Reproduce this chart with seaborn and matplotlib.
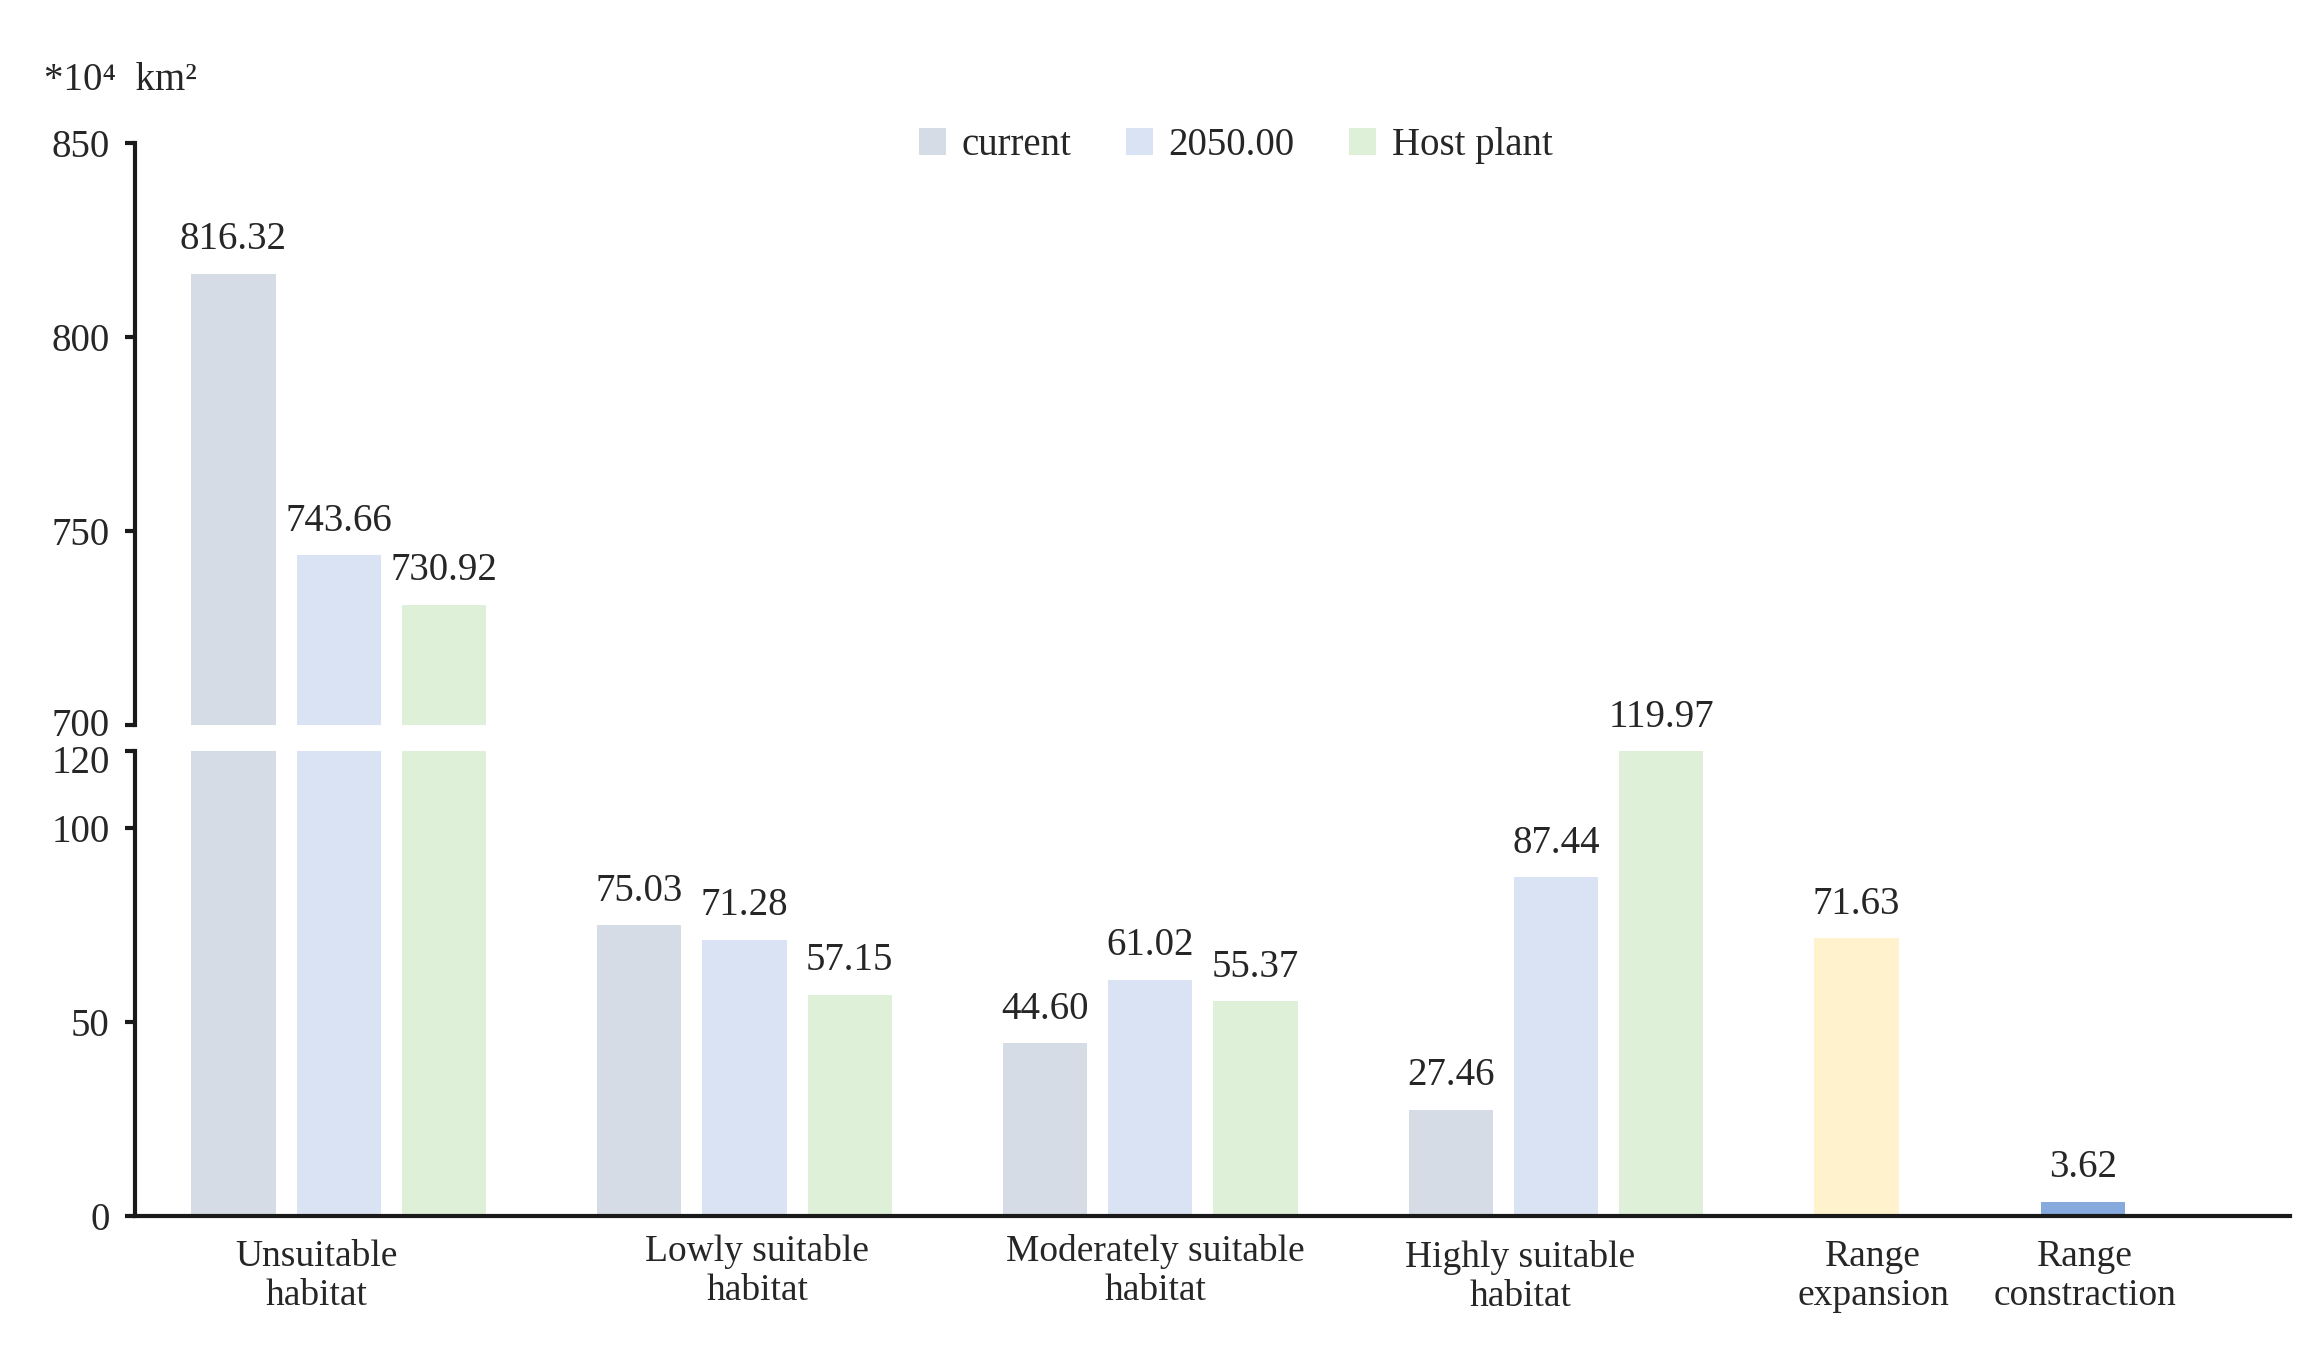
import matplotlib
matplotlib.use("Agg")
import matplotlib.pyplot as plt
import seaborn as sns
import pandas as pd
from matplotlib.patches import Patch
from matplotlib.transforms import ScaledTranslation

# Datos del grafico
categories = ["Unsuitable\nhabitat", "Lowly suitable\nhabitat",
              "Moderately suitable\nhabitat", "Highly suitable\nhabitat"]
series = ["current", "2050.00", "Host plant"]
current = [816.32, 75.03, 44.60, 27.46]
future_2050 = [743.66, 71.28, 61.02, 87.44]
host_plant = [730.92, 57.15, 55.37, 119.97]
change_labels = ["Range\nexpansion", "Range\nconstraction"]
change_names = ["Range expansion", "Range constraction"]
change_values = [71.63, 3.62]

colors = {"current": "#d6dce5", "2050.00": "#dae3f3", "Host plant": "#def1d8",
          "Range expansion": "#fff2cc", "Range constraction": "#86a9de"}

# Posiciones de las barras
group_gap = 3.853
rows = []
for i in range(len(categories)):
    for j, (name, vals) in enumerate(zip(series, [current, future_2050, host_plant])):
        rows.append({"pos": i * group_gap + j, "value": vals[i], "series": name})
change_pos = [4 * group_gap, 4 * group_gap + 2.15]
for p, name, v in zip(change_pos, change_names, change_values):
    rows.append({"pos": p, "value": v, "series": name})
df = pd.DataFrame(rows)

label_pos = [i * group_gap + 1 for i in range(len(categories))] + change_pos
label_shift = [-0.21, 0.12, 0.05, -0.34, 0.16, 0.02]
label_pos = [p + s for p, s in zip(label_pos, label_shift)]

sns.set_style("white")
plt.rcParams["font.family"] = ["Liberation Serif", "DejaVu Serif"]
FS = 28

fig = plt.figure(figsize=(22.97, 13.48), dpi=100)
ax_top = fig.add_axes([0.0588, 0.4625, 0.9382, 0.4314])
ax_bot = fig.add_axes([0.0588, 0.0979, 0.9382, 0.3450])

for ax in (ax_top, ax_bot):
    sns.barplot(data=df, x="pos", y="value", hue="series", palette=colors,
                native_scale=True, dodge=False, width=0.8, errorbar=None,
                saturation=1, linewidth=0, legend=False, ax=ax)
    ax.set_xlim(-0.934, 19.53)
    ax.set_xlabel("")
    ax.set_ylabel("")
    ax.spines["top"].set_visible(False)
    ax.spines["right"].set_visible(False)
    ax.spines["left"].set_linewidth(3)
    ax.spines["bottom"].set_linewidth(3)
    ax.spines["left"].set_color("#1a1a1a")
    ax.spines["bottom"].set_color("#1a1a1a")
    ax.tick_params(axis="y", labelsize=FS, length=7.4, width=3, color="#1a1a1a",
                   pad=11, direction="out", left=True)

ax_top.set_ylim(700, 850)
ax_top.set_yticks([700, 750, 800, 850])
ax_top.spines["bottom"].set_visible(False)
ax_top.set_xticks([])

ax_bot.set_ylim(0, 120)
ax_bot.set_yticks([0, 50, 100, 120])
ax_bot.set_xticks(label_pos)
ax_bot.set_xticklabels(categories + change_labels, fontsize=27, linespacing=1.18)
ax_bot.tick_params(axis="x", length=0, pad=17)
for k, lbl in enumerate(ax_bot.get_xticklabels()):
    if k in (1, 2):
        lbl.set_transform(lbl.get_transform() + ScaledTranslation(0, 4 / 72, fig.dpi_scale_trans))

# separar 700 y 120
ylab_top = ax_top.get_yticklabels()[0]
ylab_top.set_transform(ylab_top.get_transform() + ScaledTranslation(0, 2 / 72, fig.dpi_scale_trans))
ylab_bot = ax_bot.get_yticklabels()[-1]
ylab_bot.set_transform(ylab_bot.get_transform() + ScaledTranslation(0, -6 / 72, fig.dpi_scale_trans))

# Etiquetas de valores
for _, r in df.iterrows():
    ax = ax_top if r["value"] > 120 else ax_bot
    ax.annotate(f"{r['value']:.2f}", (r["pos"], r["value"]), xytext=(0, 24.5),
                textcoords="offset points", ha="center", va="center",
                fontsize=FS, annotation_clip=False)

fig.text(0.019, 0.940, "*10\u2074  km\u00b2", fontsize=FS, ha="left", va="center")

handles = [Patch(facecolor=colors[s], edgecolor="none") for s in series]
fig.legend(handles, series, loc="center", bbox_to_anchor=(0.538, 0.892), ncol=3,
           frameon=False, fontsize=FS, handlelength=0.7, handleheight=0.7,
           columnspacing=1.4, handletextpad=0.4)

fig.savefig("out.png", dpi=100)
